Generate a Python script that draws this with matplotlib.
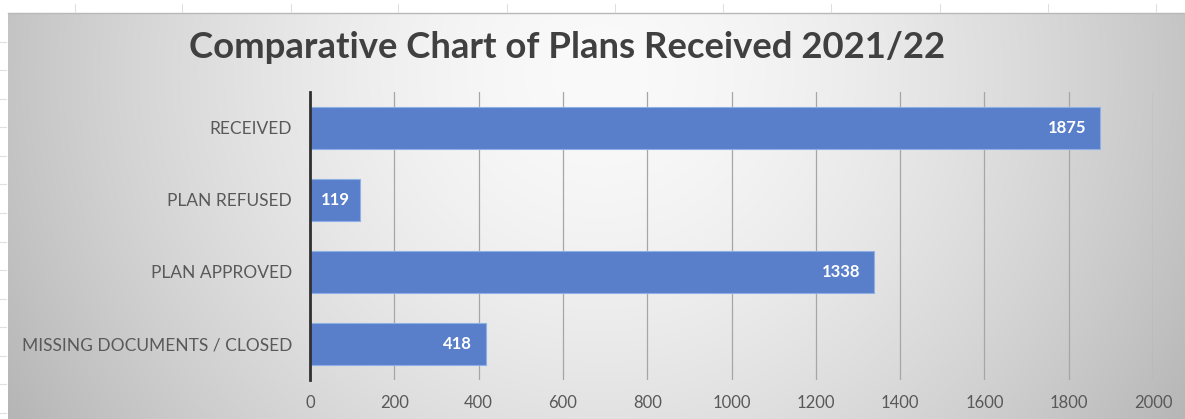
import numpy as np
import matplotlib
matplotlib.use("Agg")
import matplotlib.pyplot as plt
from matplotlib.lines import Line2D

# ---- data ----
categories = ["RECEIVED", "PLAN REFUSED", "PLAN APPROVED", "MISSING DOCUMENTS / CLOSED"]
values = [1875, 119, 1338, 418]
x_ticks = [0, 200, 400, 600, 800, 1000, 1200, 1400, 1600, 1800, 2000]
title = "Comparative Chart of Plans Received 2021/22"

W, H, DPI = 1185, 419, 100
fig = plt.figure(figsize=(W / DPI, H / DPI), dpi=DPI)
fig.patch.set_facecolor("white")

def fx(px):
    return px / W

def fy(py):
    return 1 - py / H

# ---- chart-area background with a soft radial gradient ----
left_px, top_px = 8, 13
bg_ax = fig.add_axes([fx(left_px), 0, 1 - fx(left_px), fy(top_px)])
bg_ax.set_axis_off()
gw, gh = W - left_px, H - top_px
xx, yy = np.meshgrid(np.arange(gw), np.arange(gh))
cx, cy = 600 - left_px, 60
r = np.sqrt(((xx - cx) / 620.0) ** 2 + ((yy - cy) / 600.0) ** 2)
shade = 250 - 58 * np.clip(r, 0, 1.25) ** 1.6
img = np.clip(shade, 0, 255) / 255.0
bg_ax.imshow(np.dstack([img, img, img]), aspect="auto", extent=[0, 1, 0, 1],
             interpolation="bilinear")
bg_ax.set_xlim(0, 1)
bg_ax.set_ylim(0, 1)

# sheet border and faint cell ticks around the chart object
fig.add_artist(Line2D([fx(left_px), 1], [fy(top_px), fy(top_px)],
                      color="#b8b8b8", lw=1.0))
for px in [75, 182, 291, 398, 507, 615, 723, 831, 940, 1048, 1156]:
    fig.add_artist(Line2D([fx(px), fx(px)], [fy(4), fy(12)], color="#e0e0e0", lw=0.8))
for py in np.arange(42, 419, 28.5):
    fig.add_artist(Line2D([0, fx(6)], [fy(py), fy(py)], color="#e0e0e0", lw=0.8))

# ---- plot axes ----
ax_l, ax_r, ax_t, ax_b = 310, 1153, 92, 380
ax = fig.add_axes([fx(ax_l), fy(ax_b), fx(ax_r - ax_l), (ax_b - ax_t) / H])
ax.patch.set_alpha(0)

y_pos = np.arange(len(categories))[::-1]
bars = ax.barh(y_pos, values, height=0.58, color="#5a7fca",
               edgecolor="#8fb0e6", linewidth=0.8, zorder=3)

ax.set_xlim(0, 2000)
ax.set_ylim(-0.5, len(categories) - 0.5)
ax.set_xticks(x_ticks)
ax.set_yticks(y_pos)
ax.set_yticklabels(categories)

for s in ["top", "right", "bottom"]:
    ax.spines[s].set_visible(False)
ax.spines["left"].set_color("#303030")
ax.spines["left"].set_linewidth(2.0)
ax.spines["left"].set_zorder(4)

ax.xaxis.grid(True, color="#a6a6a6", linewidth=0.9, zorder=0)
ax.set_axisbelow(True)
ax.tick_params(axis="both", length=0, labelcolor="#595959")
ax.tick_params(axis="x", pad=11, labelsize=12)
ax.tick_params(axis="y", pad=13, labelsize=12.5)
for lab in ax.get_xticklabels() + ax.get_yticklabels():
    lab.set_fontfamily("Lato")

# value labels inside the bar ends
fig.canvas.draw()
renderer = fig.canvas.get_renderer()
px_per_unit = (ax_r - ax_l) / 2000.0
for yv, v in zip(y_pos, values):
    t = ax.annotate(str(v), xy=(v, yv), xytext=(-14, 0), textcoords="offset pixels",
                    ha="right", va="center", color="white", fontsize=12,
                    fontweight="bold", fontfamily="Lato", zorder=5)
    tw = t.get_window_extent(renderer).width
    bar_px = v * px_per_unit
    if bar_px - tw < 28:
        t.set_position((-(bar_px - tw) / 2.0, 0))

fig.text(fx(567), fy(48), title, ha="center", va="center", fontsize=26.3,
         fontweight="bold", color="#404040", fontfamily="Lato")

fig.savefig("out.png", dpi=DPI)
